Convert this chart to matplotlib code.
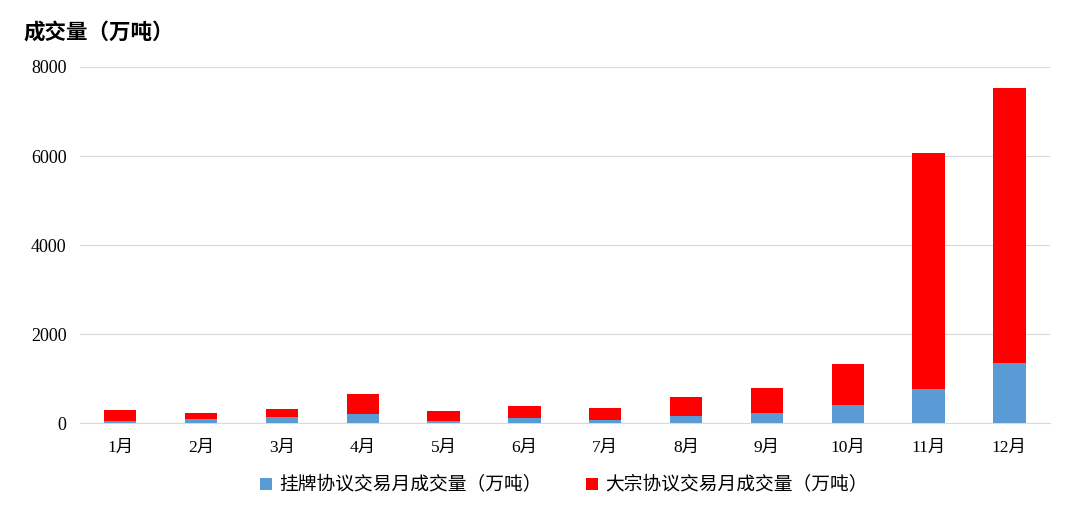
import matplotlib
matplotlib.use("Agg")
import matplotlib.pyplot as plt
import numpy as np

months = ["1月", "2月", "3月", "4月", "5月", "6月", "7月", "8月", "9月", "10月", "11月", "12月"]
listed = [40, 100, 135, 210, 35, 113, 75, 150, 232, 405, 765, 1350]
block = [245, 125, 173, 435, 245, 277, 270, 428, 548, 915, 5305, 6180]
yticks = [0, 2000, 4000, 6000, 8000]

fam = ["Liberation Serif", "Noto Sans CJK SC"]
plt.rcParams["font.family"] = fam

fig = plt.figure(figsize=(10.8, 5.13), dpi=100)
ax = fig.add_axes([0.074, 0.1754, 0.898, 0.694])
x = np.arange(len(months))
w = 0.4
ax.bar(x, listed, w, color="#5B9BD5", label="挂牌协议交易月成交量（万吨）", zorder=3)
ax.bar(x, block, w, bottom=listed, color="#FF0000", label="大宗协议交易月成交量（万吨）", zorder=3)

ax.set_xlim(-0.5, len(months) - 0.5)
ax.set_ylim(0, 8000)
ax.set_yticks(yticks)
ax.set_yticklabels([str(v) for v in yticks], fontsize=13)
ax.set_xticks(x)
ax.set_xticklabels(months, fontsize=12.5)
ax.yaxis.grid(True, color="#D9D9D9", linewidth=0.8, zorder=0)
for s in ["top", "right", "left"]:
    ax.spines[s].set_visible(False)
ax.spines["bottom"].set_color("#D9D9D9")
ax.tick_params(axis="both", length=0, colors="#000000")
ax.tick_params(axis="y", pad=9.5)
ax.tick_params(axis="x", pad=12.5)

fig.text(0.022, 0.935, "成交量（万吨）", fontsize=15.5, fontweight="bold", va="center", ha="left")

fig.legend(loc="center", bbox_to_anchor=(0.522, 0.054), ncol=2, frameon=False,
           fontsize=13.5, handlelength=0.64, handleheight=0.64, columnspacing=2.4, handletextpad=0.37)

fig.savefig("out.png", dpi=100)
